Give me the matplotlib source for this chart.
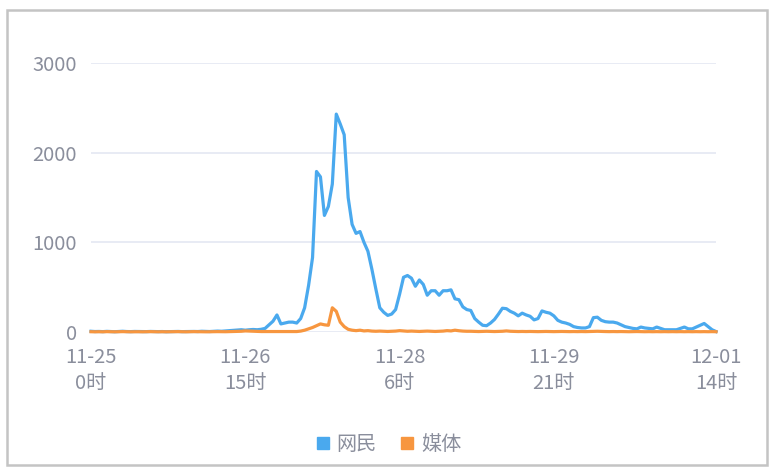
import matplotlib.pyplot as plt
from matplotlib.lines import Line2D
from matplotlib.patches import Rectangle

plt.rcParams['font.family'] = ['Noto Sans CJK SC', 'DejaVu Sans']

# hourly counts, 11-25 0时 .. 12-01 14时 (159 hours)
netizen = [
    8, 5, 6, 4, 7, 5, 3, 6, 8, 5, 4, 6, 5, 3, 4, 6, 5, 4, 5, 3,
    4, 5, 6, 4, 5, 7, 6, 5, 8, 6, 5, 7, 10, 8, 12, 15, 18, 22, 25, 20,
    25, 28, 25, 30, 40, 80, 120, 190, 90, 100, 110, 110, 100, 150, 270, 520, 830, 1790, 1730, 1300,
    1400, 1650, 2430, 2320, 2200, 1500, 1200, 1100, 1120, 1000, 900, 700, 480, 270, 220, 185, 200, 250, 420, 610,
    630, 600, 510, 580, 530, 410, 460, 460, 410, 460, 460, 470, 370, 360, 280, 250, 240, 150, 110, 75,
    70, 100, 140, 200, 265, 260, 230, 210, 180, 210, 190, 175, 135, 150, 235, 220, 210, 180, 130, 110,
    100, 85, 60, 50, 45, 45, 60, 160, 165, 130, 115, 110, 110, 100, 80, 60, 50, 40, 35, 55,
    45, 40, 35, 55, 40, 25, 25, 25, 25, 40, 55, 35, 35, 55, 75, 95, 60, 25, 5,
]
media = [
    3, 2, 3, 2, 4, 3, 2, 3, 4, 3, 2, 3, 3, 2, 3, 4, 3, 2, 3, 2,
    3, 3, 4, 3, 2, 3, 4, 3, 3, 2, 3, 3, 4, 3, 3, 4, 5, 6, 8, 12,
    10, 8, 6, 5, 5, 4, 4, 5, 4, 4, 5, 4, 5, 10, 20, 35, 50, 70, 90, 80,
    75, 270, 230, 110, 60, 30, 20, 15, 20, 12, 15, 10, 8, 10, 8, 6, 8, 10, 15, 12,
    8, 10, 8, 6, 8, 10, 8, 6, 8, 10, 15, 12, 20, 14, 10, 8, 8, 6, 5, 6,
    8, 6, 5, 6, 8, 12, 8, 6, 5, 6, 5, 6, 5, 4, 5, 6, 5, 4, 5, 6,
    5, 4, 5, 4, 5, 4, 5, 6, 8, 6, 5, 4, 5, 4, 5, 4, 3, 4, 5, 4,
    3, 4, 3, 4, 3, 4, 3, 4, 3, 4, 3, 4, 3, 4, 3, 4, 3, 4, 3,
]
tick_pos = [0, 39, 78, 117, 158]
tick_labels = ['11-25\n0时', '11-26\n15时', '11-28\n6时', '11-29\n21时', '12-01\n14时']
series_names = ['网民', '媒体']

blue = '#4aa9ee'
orange = '#f7963f'
gray = '#8a8e9c'

fig = plt.figure(figsize=(7.74, 4.74), dpi=100)
fig.patches.append(Rectangle((0.009, 0.019), 0.982, 0.96, transform=fig.transFigure,
                             fill=False, edgecolor='#c4c4c4', linewidth=1.8))

ax = fig.add_axes([0.1176, 0.2996, 0.8075, 0.5675])
hours = list(range(len(netizen)))
ax.plot(hours, netizen, color=blue, linewidth=2.3, clip_on=False, zorder=3)
ax.plot(hours, media, color=orange, linewidth=2.3, clip_on=False, zorder=4)

ax.set_xlim(0, 158)
ax.set_ylim(0, 3000)
ax.set_yticks([0, 1000, 2000, 3000])
ax.set_xticks(tick_pos)
ax.set_xticklabels(tick_labels, linespacing=1.3)
ax.grid(axis='y', color='#e4e8f2', linewidth=1.2)
ax.set_axisbelow(True)
for s in ax.spines.values():
    s.set_visible(False)
ax.tick_params(axis='both', length=0, labelsize=14.5, labelcolor=gray)
ax.tick_params(axis='y', pad=10)
ax.tick_params(axis='x', pad=11)

handles = [Line2D([], [], marker='s', linestyle='', color=c, markersize=8) for c in (blue, orange)]
fig.legend(handles, series_names, loc='center', bbox_to_anchor=(0.5, 0.063), ncol=2, frameon=False,
           fontsize=14.5, labelcolor=gray, handletextpad=0.2, columnspacing=1.0, handlelength=1.0)

fig.savefig('out.png', dpi=100)
